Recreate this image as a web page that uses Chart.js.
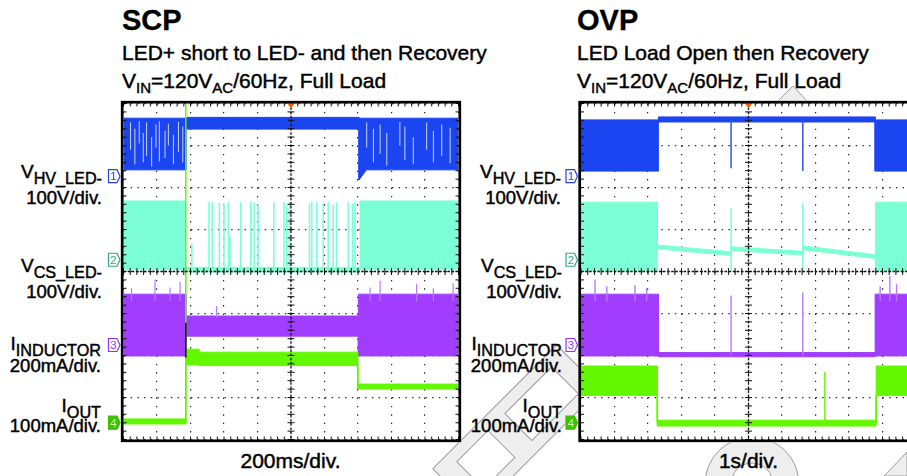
<!DOCTYPE html>
<html>
<head>
<meta charset="utf-8">
<script src="https://cdn.jsdelivr.net/npm/chart.js@4.4.0/dist/chart.umd.min.js"></script>
<style>
  html, body { margin: 0; padding: 0; background: #fff; overflow: hidden; width: 907px; height: 476px; }
  body { position: relative; font-family: "Liberation Sans", Arial, sans-serif; color: #000; }
  .t { position: absolute; white-space: nowrap; line-height: 1; -webkit-text-stroke: 0.45px #000; }
  .title { font-size: 29px; font-weight: bold; -webkit-text-stroke: 0.3px #000; }
  .sub { font-size: 21px; }
  .sub sub { font-size: 15px; vertical-align: -4.5px; line-height: 0; }
  .lab1 { font-size: 19px; text-align: right; }
  .lab1 sub { font-size: 16.2px; vertical-align: -5.5px; line-height: 0; }
  .lab2 { font-size: 18.5px; text-align: right; }
  .div { font-size: 21px; width: 200px; text-align: center; }
  canvas { position: absolute; }
  svg { position: absolute; left: 0; top: 0; }
</style>
</head>
<body>

<!-- faint watermark behind everything -->
<svg id="wm" width="907" height="476">
  <g fill="#eeeeee" stroke="#9c9c9c" stroke-width="1">
    <circle cx="752" cy="484" r="47"/>
    <circle cx="752" cy="484" r="21" fill="#fff"/>
    <g transform="rotate(-45 512 432)">
      <rect x="430" y="402" width="175" height="62"/>
      <rect x="452" y="414" width="44" height="38" fill="#fff"/>
      <rect x="520" y="414" width="66" height="38" fill="#fff"/>
    </g>
    <polygon points="776,103 793,86 809,103"/>
    <polygon points="884,476 907,452 907,476"/>
  </g>
</svg>

<div class="t title" style="left:122px; top:6px;">SCP</div>
<div class="t sub" style="left:122px; top:41.5px;">LED+ short to LED- and then Recovery</div>
<div class="t sub" style="left:122px; top:69.5px;">V<sub>IN</sub>=120V<sub>AC</sub>/60Hz, Full Load</div>

<div class="t title" style="left:577px; top:6px;">OVP</div>
<div class="t sub" style="left:577px; top:41.5px;">LED Load Open then Recovery</div>
<div class="t sub" style="left:577px; top:69.5px;">V<sub>IN</sub>=120V<sub>AC</sub>/60Hz, Full Load</div>

<!-- channel labels, left screen -->
<div class="t lab1" style="right:805px; top:161.5px;">V<sub>HV_LED-</sub></div>
<div class="t lab2" style="right:805px; top:189.3px;">100V/div.</div>
<div class="t lab1" style="right:805px; top:255.6px;">V<sub>CS_LED-</sub></div>
<div class="t lab2" style="right:805px; top:282.6px;">100V/div.</div>
<div class="t lab1" style="right:806px; top:333.9px;">I<sub>INDUCTOR</sub></div>
<div class="t lab2" style="right:806px; top:357px;">200mA/div.</div>
<div class="t lab1" style="right:806px; top:395.6px;">I<sub>OUT</sub></div>
<div class="t lab2" style="right:806px; top:417px;">100mA/div.</div>

<!-- channel labels, right screen -->
<div class="t lab1" style="right:346px; top:161.5px;">V<sub>HV_LED-</sub></div>
<div class="t lab2" style="right:346px; top:189.3px;">100V/div.</div>
<div class="t lab1" style="right:345px; top:255.6px;">V<sub>CS_LED-</sub></div>
<div class="t lab2" style="right:345px; top:282.6px;">100V/div.</div>
<div class="t lab1" style="right:345px; top:333.9px;">I<sub>INDUCTOR</sub></div>
<div class="t lab2" style="right:345px; top:357px;">200mA/div.</div>
<div class="t lab1" style="right:345px; top:395.6px;">I<sub>OUT</sub></div>
<div class="t lab2" style="right:345px; top:417px;">100mA/div.</div>

<div class="t div" style="left:190.5px; top:450.2px;">200ms/div.</div>
<div class="t div" style="left:648.5px; top:450.2px;">1s/div.</div>

<canvas id="scp" width="356" height="357" style="left:113px; top:93px;"></canvas>
<canvas id="ovp" width="356" height="357" style="left:571px; top:93px;"></canvas>

<svg id="marks" width="907" height="476"></svg>

<script>
// all values in scope divisions: x 0..10 (time), y 0..8 (screen)

// SCP - channel 1 (V_HV_LED-), envelope
const scpCh1X  = [0, 1.87, 1.87, 7.03, 7.03, 7.25, 10];
const scpCh1Hi = [7.65, 7.65, 7.67, 7.67, 7.65, 7.65, 7.65];
const scpCh1Lo = [6.42, 6.42, 7.39, 7.39, 6.18, 6.42, 6.42];
const scpCh1StreakX      = [0.21, 0.34, 0.47, 0.59, 0.69, 0.84, 0.97, 1.07, 1.24, 1.34, 1.49, 1.64, 1.77,
                            7.26, 7.46, 7.66, 7.86, 8.25, 8.40, 8.65, 9.05, 9.25, 9.50, 9.75];
const scpCh1StreakTop    = [7.55, 7.40, 7.58, 7.30, 7.55, 7.20, 7.50, 7.58, 7.35, 7.52, 7.25, 7.56, 7.45,
                            7.55, 7.40, 7.50, 7.30, 7.56, 7.45, 7.20, 7.55, 7.35, 7.50, 7.42];
const scpCh1StreakBottom = [6.90, 6.55, 7.05, 6.60, 6.75, 6.50, 6.95, 6.62, 6.70, 7.00, 6.55, 6.85, 6.60,
                            6.95, 6.60, 6.80, 6.52, 7.00, 6.65, 6.55, 6.90, 6.60, 6.75, 6.58];

// SCP - channel 2 (V_CS_LED-)
const scpCh2X  = [0, 1.84, 1.84, 7.06, 7.06, 10];
const scpCh2Hi = [5.68, 5.68, 4.10, 4.10, 5.68, 5.68];
const scpCh2Lo = [4.04, 4.04, 3.99, 3.99, 4.04, 4.04];
const scpCh2SpikeX   = [2.04, 2.55, 2.65, 2.86, 3.00, 3.13, 3.18, 3.50, 3.80, 3.90, 4.02, 4.49, 4.79,
                        4.87, 4.95, 5.55, 5.62, 5.77, 5.96, 6.11, 6.26, 6.36, 6.71, 6.84, 6.91];
const scpCh2SpikeTop = [4.68, 5.66, 5.66, 5.63, 5.63, 5.66, 4.83, 5.66, 5.66, 5.64, 5.60, 5.66, 5.66,
                        5.58, 5.66, 5.62, 5.66, 5.66, 5.64, 5.66, 5.60, 5.66, 5.66, 5.62, 5.66];
const scpCh2SpikeBottom = 4.0;

// SCP - channel 3 (I_INDUCTOR)
const scpCh3X  = [0, 1.86, 1.86, 7.01, 7.01, 10];
const scpCh3Hi = [3.46, 3.46, 2.94, 2.94, 3.46, 3.46];
const scpCh3Lo = [1.99, 1.99, 2.46, 2.46, 1.99, 1.99];
const scpCh3SpikeX   = [0.24, 0.94, 1.39, 1.69, 2.78, 7.36, 7.66, 8.75, 9.25, 9.84];
const scpCh3SpikeTop = [3.60, 3.81, 3.62, 3.75, 3.18, 3.62, 3.78, 3.70, 3.60, 3.72];
const scpCh3SpikeBottom = [3.3, 3.3, 3.3, 3.3, 2.9, 3.3, 3.3, 3.3, 3.3, 3.3];
const scpEdgeX = [1.86];
const scpEdgeTop = [2.78];
const scpEdgeBottom = [1.95];

// SCP - channel 4 (I_OUT)
const scpCh4X  = [0, 1.86, 1.86, 2.25, 2.25, 6.99, 6.99, 10];
const scpCh4Hi = [0.49, 0.49, 2.15, 2.15, 2.08, 2.08, 1.32, 1.32];
const scpCh4Lo = [0.37, 0.37, 1.78, 1.78, 1.76, 1.76, 1.20, 1.20];
const scpCh4SpikeX   = [1.86, 6.99];
const scpCh4SpikeTop = [8.2, 1.76];
const scpCh4SpikeBottom = [0.37, 1.26];

// OVP - channel 1
const ovpCh1X  = [0, 2.31, 2.31, 8.78, 8.78, 10];
const ovpCh1Hi = [7.61, 7.61, 7.68, 7.68, 7.61, 7.61];
const ovpCh1Lo = [6.39, 6.39, 7.56, 7.56, 6.39, 6.39];
const ovpCh1SpikeX   = [4.48, 6.62];
const ovpCh1SpikeTop = [7.6, 7.6];
const ovpCh1SpikeBottom = [6.46, 6.39];

// OVP - channel 2
const ovpCh2X  = [0, 2.28, 2.28, 4.48, 4.48, 6.62, 6.62, 8.79, 8.79, 10];
const ovpCh2Hi = [5.65, 5.65, 4.63, 4.47, 4.59, 4.48, 4.61, 4.40, 5.65, 5.65];
const ovpCh2Lo = [4.01, 4.01, 4.54, 4.38, 4.50, 4.39, 4.52, 4.31, 4.01, 4.01];
const ovpCh2SpikeX   = [4.48, 6.62];
const ovpCh2SpikeTop = [5.51, 5.63];
const ovpCh2SpikeBottom = 4.01;

// OVP - channel 3
const ovpCh3X  = [0, 2.31, 2.31, 8.78, 8.78, 10];
const ovpCh3Hi = [3.46, 3.46, 2.07, 2.07, 3.46, 3.46];
const ovpCh3Lo = [1.99, 1.99, 1.97, 1.97, 1.99, 1.99];
const ovpCh3SpikeX   = [0.42, 0.77, 1.61, 1.96, 4.48, 6.62, 8.93, 9.22, 9.42];
const ovpCh3SpikeTop = [3.81, 3.65, 3.67, 3.60, 3.43, 3.50, 3.65, 3.89, 3.70];
const ovpCh3SpikeBottom = [3.3, 3.3, 3.3, 3.3, 2.0, 2.0, 3.3, 3.3, 3.3];

// OVP - channel 4
const ovpCh4X  = [0, 2.28, 2.28, 8.81, 8.81, 10];
const ovpCh4Hi = [1.75, 1.75, 0.46, 0.46, 1.75, 1.75];
const ovpCh4Lo = [1.05, 1.05, 0.32, 0.32, 1.05, 1.05];
const ovpCh4SpikeX   = [2.28, 7.28, 8.81];
const ovpCh4SpikeTop = [1.05, 1.61, 1.05];
const ovpCh4SpikeBottom = 0.4;

// channel reference markers (screen divisions)
const markerY = [6.27, 4.28, 2.25, 0.4];
const markerLabel = ['1', '2', '3', '4'];

const BLUE = '#1c45f2', CYAN = '#7dffd6', PURPLE = '#a13dff', GREEN = '#64f800';

function pick(a, i) { return Array.isArray(a) ? a[i] : a; }

function band(xs, hi, lo, color) {
    return [
        { data: xs.map((x, i) => ({ x, y: hi[i] })), borderColor: color, backgroundColor: color,
          borderWidth: 1, pointRadius: 0, fill: '+1' },
        { data: xs.map((x, i) => ({ x, y: lo[i] })), borderColor: color, backgroundColor: color,
          borderWidth: 1, pointRadius: 0, fill: false }
    ];
}

function spikes(xs, top, bottom, color, width) {
    const pts = [];
    xs.forEach((x, i) => {
        pts.push({ x, y: pick(bottom, i) }, { x, y: pick(top, i) }, { x, y: null });
    });
    return [{ data: pts, borderColor: color, borderWidth: width, pointRadius: 0, fill: false, spanGaps: false }];
}

const graticule = {
    id: 'graticule',
    beforeDraw(chart) {
        const { ctx, chartArea: a } = chart;
        ctx.save();
        ctx.fillStyle = '#fff';
        ctx.fillRect(a.left - 3, a.top - 3, a.width + 6, a.height + 6);
        ctx.restore();
    },
    afterDraw(chart) {
        const { ctx, chartArea: a, scales: { x, y } } = chart;
        const cx = x.getPixelForValue(5), cy = y.getPixelForValue(4);
        const seg = (x1, y1, x2, y2) => { ctx.beginPath(); ctx.moveTo(x1, y1); ctx.lineTo(x2, y2); ctx.stroke(); };
        ctx.save();
        ctx.strokeStyle = '#111';
        ctx.lineWidth = 1.3;
        ctx.setLineDash([2.5, 1.6]);
        seg(cx, a.top, cx, a.bottom);
        seg(a.left, cy, a.right, cy);
        ctx.setLineDash([]);
        ctx.lineWidth = 1;
        for (let k = 0; k <= 50; k++) {
            const px = x.getPixelForValue(k / 5);
            seg(px, cy - 3.5, px, cy + 3.5);
            seg(px, a.top, px, a.top + 3);
            seg(px, a.bottom - 3, px, a.bottom);
        }
        for (let k = 0; k <= 40; k++) {
            const py = y.getPixelForValue(k / 5);
            seg(cx - 3.5, py, cx + 3.5, py);
            seg(a.left, py, a.left + 3, py);
            seg(a.right - 3, py, a.right, py);
        }
        ctx.strokeStyle = '#000';
        ctx.lineWidth = 2.7;
        ctx.strokeRect(a.left - 1.3, a.top - 1.3, a.width + 2.6, a.height + 2.6);
        ctx.fillStyle = '#ff5a00';
        ctx.beginPath();
        ctx.moveTo(cx - 3.5, a.top);
        ctx.lineTo(cx + 3.5, a.top);
        ctx.lineTo(cx, a.top + 5);
        ctx.closePath();
        ctx.fill();
        ctx.restore();
    }
};

function scope(id, datasets, pad) {
    datasets.forEach((d, i) => { d.order = -i; d.tension = 0; });
    return new Chart(document.getElementById(id), {
        type: 'line',
        data: { datasets },
        options: {
            responsive: false,
            animation: false,
            events: [],
            layout: { padding: pad },
            plugins: { legend: { display: false }, tooltip: { enabled: false } },
            scales: {
                x: {
                    type: 'linear', min: 0, max: 10, z: 1,
                    ticks: { display: false, stepSize: 1 },
                    grid: { color: '#222', lineWidth: 1.2, drawTicks: false },
                    border: { display: false, dash: [1.4, 7.0] }
                },
                y: {
                    type: 'linear', min: 0, max: 8, z: 1,
                    ticks: { display: false, stepSize: 1 },
                    grid: { color: '#222', lineWidth: 1.2, drawTicks: false },
                    border: { display: false, dash: [1.4, 5.3] }
                }
            }
        },
        plugins: [graticule]
    });
}

const scpChart = scope('scp', [
    ...band(scpCh1X, scpCh1Hi, scpCh1Lo, BLUE),
    ...spikes(scpCh1StreakX, scpCh1StreakTop, scpCh1StreakBottom, 'rgba(215,225,255,0.9)', 1),
    ...band(scpCh2X, scpCh2Hi, scpCh2Lo, CYAN),
    ...spikes(scpCh2SpikeX, scpCh2SpikeTop, scpCh2SpikeBottom, CYAN, 1.6),
    ...band(scpCh3X, scpCh3Hi, scpCh3Lo, PURPLE),
    ...spikes(scpCh3SpikeX, scpCh3SpikeTop, scpCh3SpikeBottom, '#b57bff', 1.2),
    ...band(scpCh4X, scpCh4Hi, scpCh4Lo, GREEN),
    ...spikes(scpCh4SpikeX, scpCh4SpikeTop, scpCh4SpikeBottom, GREEN, 1.5),
    ...spikes(scpEdgeX, scpEdgeTop, scpEdgeBottom, '#000', 1.5)
], { left: 10.5, right: 10.5, top: 10.5, bottom: 10.5 });

const ovpChart = scope('ovp', [
    ...band(ovpCh1X, ovpCh1Hi, ovpCh1Lo, BLUE),
    ...spikes(ovpCh1SpikeX, ovpCh1SpikeTop, ovpCh1SpikeBottom, '#3a5cf5', 1.6),
    ...band(ovpCh2X, ovpCh2Hi, ovpCh2Lo, CYAN),
    ...spikes(ovpCh2SpikeX, ovpCh2SpikeTop, ovpCh2SpikeBottom, CYAN, 1.6),
    ...band(ovpCh3X, ovpCh3Hi, ovpCh3Lo, PURPLE),
    ...spikes(ovpCh3SpikeX, ovpCh3SpikeTop, ovpCh3SpikeBottom, '#b57bff', 1.4),
    ...band(ovpCh4X, ovpCh4Hi, ovpCh4Lo, GREEN),
    ...spikes(ovpCh4SpikeX, ovpCh4SpikeTop, ovpCh4SpikeBottom, GREEN, 1.5)
], { left: 10, right: 11, top: 10.5, bottom: 10.5 });

// channel markers on the left edge of each screen
const markerStroke = ['#2a3fe0', '#2aa87e', '#9431ff', '#3fbf00'];
const svg = document.getElementById('marks');
[scpChart, ovpChart].forEach(chart => {
    const cv = chart.canvas;
    const offX = cv.offsetLeft, offY = cv.offsetTop;
    const left = offX + chart.chartArea.left;
    markerY.forEach((v, i) => {
        const cy = offY + chart.scales.y.getPixelForValue(v);
        const x0 = left - 15, y0 = cy - 6.5;
        const filled = i === 3;
        const pts = [[0, 0], [8.5, 0], [11.5, 6.5], [8.5, 13], [0, 13]]
            .map(p => (x0 + p[0]) + ',' + (y0 + p[1])).join(' ');
        svg.insertAdjacentHTML('beforeend',
            `<polygon points="${pts}" fill="${filled ? markerStroke[i] : '#fff'}" stroke="${markerStroke[i]}" stroke-width="1.2"/>` +
            `<text x="${x0 + 5}" y="${cy + 4}" font-family="Liberation Sans, Arial" font-size="11.5" text-anchor="middle" fill="${filled ? '#c8ffa0' : markerStroke[i]}">${markerLabel[i]}</text>`);
    });
});
</script>
</body>
</html>
